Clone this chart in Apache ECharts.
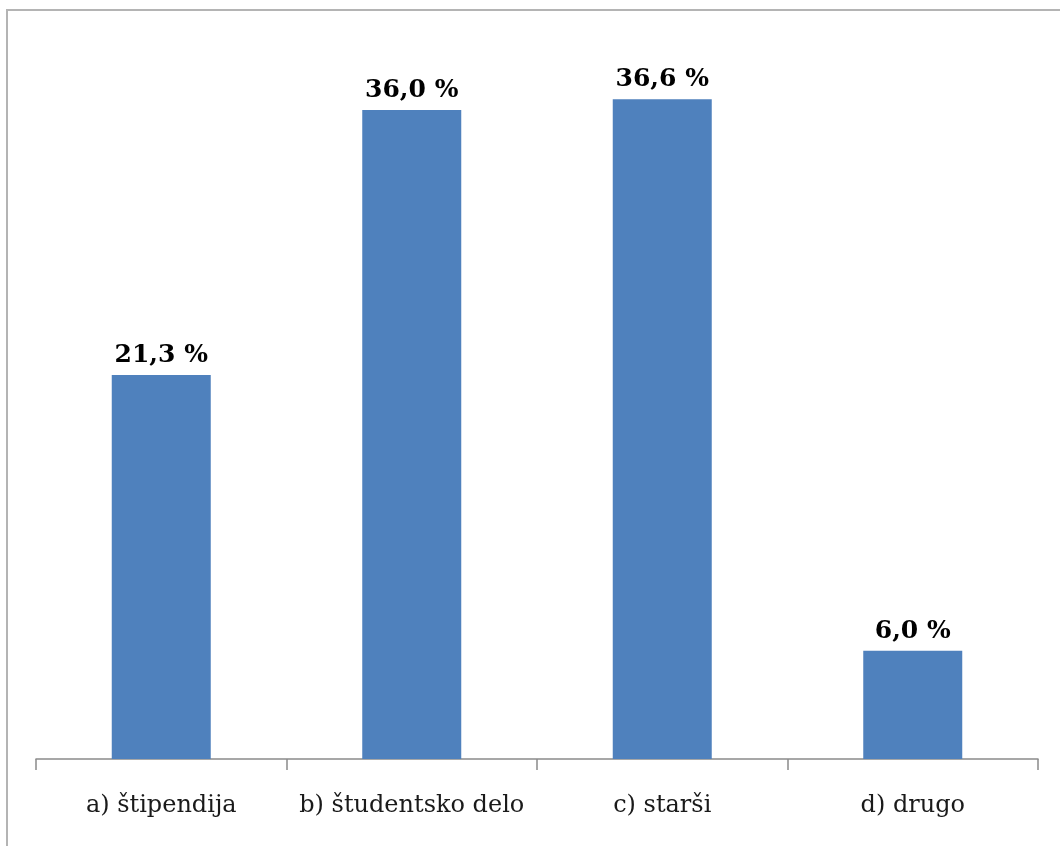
<!DOCTYPE html>
<html>
<head>
<meta charset="utf-8">
<script src="https://cdn.jsdelivr.net/npm/echarts@6/dist/echarts.min.js"></script>
<style>
    html, body { margin: 0; padding: 0; background: #fff; }
    #main { position: absolute; left: 0; top: 0; width: 1060px; height: 846px; }
    #frame { position: absolute; left: 6px; top: 9px; width: 1054px; height: 837px;
             border-top: 2px solid #b4b4b4; border-left: 2px solid #b4b4b4; box-sizing: border-box; }
</style>
</head>
<body>
<div id="main"></div>
<div id="frame"></div>
<script>
var categories = ['a) štipendija', 'b) študentsko delo', 'c) starši', 'd) drugo'];
var values = [21.3, 36.0, 36.6, 6.0];
var labels = ['21,3 %', '36,0 %', '36,6 %', '6,0 %'];

var myChart = echarts.init(document.getElementById('main'));
var option = {
    animation: false,
    grid: {
        left: 36,
        right: 22,
        top: 38,
        bottom: 87
    },
    xAxis: {
        type: 'category',
        data: categories,
        axisLine: {
            lineStyle: { color: '#8a8a8a', width: 1.5 }
        },
        axisTick: {
            show: true,
            interval: 0,
            length: 11,
            lineStyle: { color: '#8a8a8a', width: 1.5 }
        },
        axisLabel: {
            interval: 0,
            hideOverlap: false,
            color: '#1a1a1a',
            fontSize: 24,
            fontFamily: 'DejaVu Serif',
            margin: 35
        }
    },
    yAxis: {
        type: 'value',
        min: 0,
        max: 40,
        show: false
    },
    series: [{
        type: 'bar',
        barWidth: 99,
        data: values,
        itemStyle: { color: '#4f81bd' },
        label: {
            show: true,
            position: 'top',
            distance: 7,
            color: '#000',
            fontSize: 25,
            fontWeight: 'bold',
            fontFamily: 'DejaVu Serif',
            formatter: function (p) { return labels[p.dataIndex]; }
        }
    }]
};
myChart.setOption(option);
</script>
</body>
</html>
